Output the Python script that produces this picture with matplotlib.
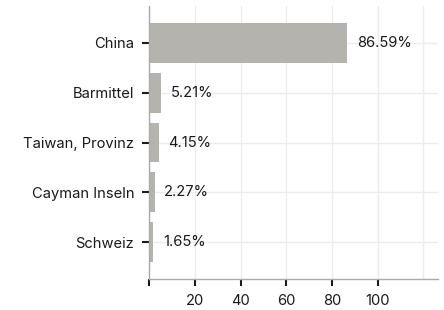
import matplotlib
matplotlib.use("Agg")
import matplotlib.pyplot as plt

plt.rcParams['font.family'] = ['Inter', 'DejaVu Sans']

countries = ["China", "Barmittel", "Taiwan, Provinz", "Cayman Inseln", "Schweiz"]
shares = [86.59, 5.21, 4.15, 2.27, 1.65]
labels = ["86.59%", "5.21%", "4.15%", "2.27%", "1.65%"]
xtick_vals = [0, 20, 40, 60, 80, 100, 120]
xtick_labels = ["", "20", "40", "60", "80", "100", ""]

fig = plt.figure(figsize=(4.44, 3.10), dpi=100)
ax = fig.add_axes([0.3367, 0.1, 0.65, 0.8806])

pos = list(range(len(countries)))
ax.barh(pos, shares, height=0.8, color="#b4b3ae", zorder=2)
for p, v, t in zip(pos, shares, labels):
    ax.text(v + 4.2, p, t, va="center", ha="left", fontsize=10.6, color="#1a1a1a", zorder=3)

ax.set_ylim(4.74, -0.74)
ax.set_xlim(0, 126.5)
ax.set_yticks(pos)
ax.set_yticklabels(countries)
ax.set_xticks(xtick_vals)
ax.set_xticklabels(xtick_labels)
ax.xaxis.get_major_ticks()[-1].tick1line.set_visible(False)

ax.grid(True, color="#ececec", linewidth=1, zorder=0)
ax.set_axisbelow(True)
for s in ["top", "right"]:
    ax.spines[s].set_visible(False)
for s in ["left", "bottom"]:
    ax.spines[s].set_color("#aaaaaa")
    ax.spines[s].set_linewidth(1)
ax.tick_params(axis="both", length=5, width=1.5, color="#1a1a1a", labelsize=10.6, labelcolor="#1a1a1a", pad=6)

fig.savefig("out.png", dpi=100)
